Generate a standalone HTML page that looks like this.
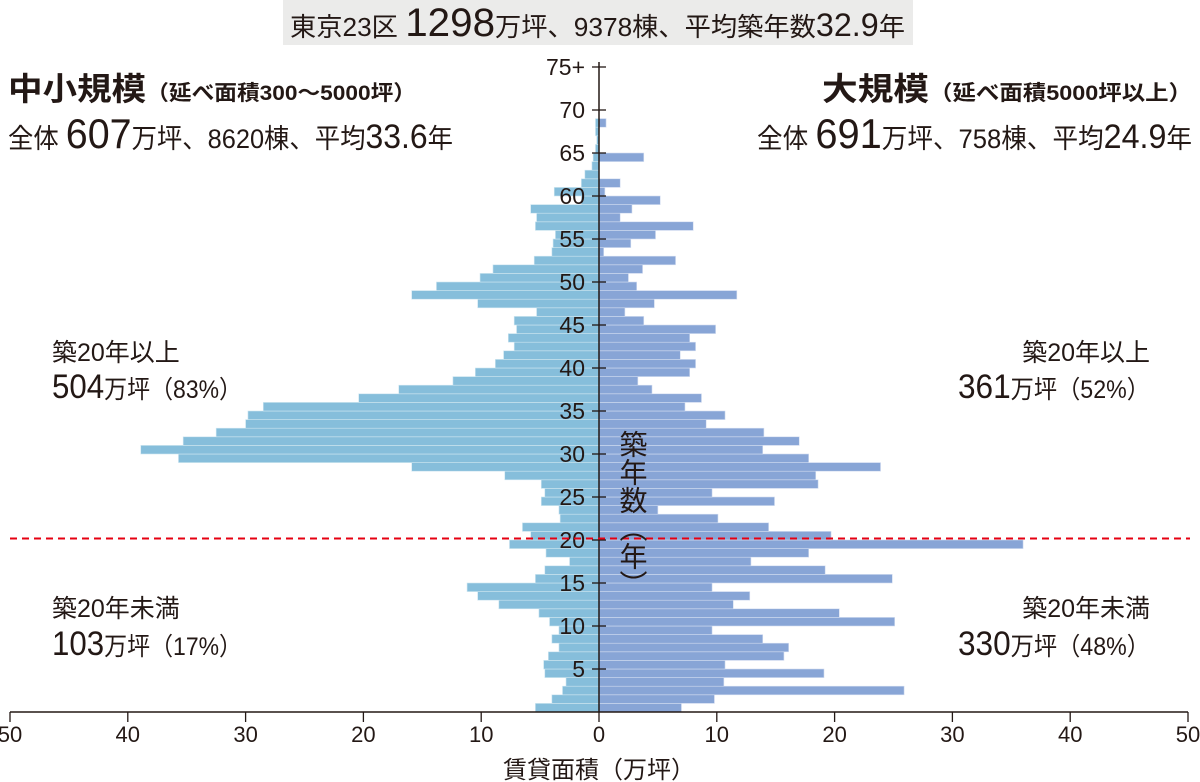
<!DOCTYPE html>
<html><head><meta charset="utf-8"><style>
html,body{margin:0;padding:0;background:#fff;}
svg{display:block;font-family:"Liberation Sans Narrow","Liberation Sans","Noto Sans CJK JP",sans-serif;}
</style></head><body>
<svg id="chart" width="1200" height="782" viewBox="0 0 1200 782" xmlns="http://www.w3.org/2000/svg">
<rect x="283" y="0" width="630" height="45" fill="#ebebea"/>
<text x="290" y="36" fill="#231815" font-size="26" textLength="615" lengthAdjust="spacingAndGlyphs">東京23区 <tspan font-size="40">1298</tspan>万坪、9378棟、平均築年数<tspan font-size="32">32.9</tspan>年</text>
<text x="8" y="100" fill="#231815" font-size="32" font-weight="bold" textLength="408" lengthAdjust="spacingAndGlyphs">中小規模<tspan font-size="21">（延べ面積300～5000坪）</tspan></text>
<text x="8" y="148" fill="#231815" font-size="27" textLength="445" lengthAdjust="spacingAndGlyphs">全体 <tspan font-size="42">607</tspan>万坪、8620棟、平均<tspan font-size="34">33.6</tspan>年</text>
<text x="1192" y="100" text-anchor="end" fill="#231815" font-size="32" font-weight="bold" textLength="370" lengthAdjust="spacingAndGlyphs">大規模<tspan font-size="21">（延べ面積5000坪以上）</tspan></text>
<text x="1192" y="148" text-anchor="end" fill="#231815" font-size="27" textLength="435" lengthAdjust="spacingAndGlyphs">全体 <tspan font-size="42">691</tspan>万坪、758棟、平均<tspan font-size="34">24.9</tspan>年</text>
<g id="bars"></g>
<g id="axes"></g>
<text x="52" y="361" fill="#231815" font-size="25">築20年以上</text>
<text x="52" y="398" fill="#231815" font-size="25" textLength="190" lengthAdjust="spacingAndGlyphs"><tspan font-size="34">504</tspan>万坪（83%）</text>
<text x="52" y="617" fill="#231815" font-size="25">築20年未満</text>
<text x="52" y="655" fill="#231815" font-size="25" textLength="190" lengthAdjust="spacingAndGlyphs"><tspan font-size="34">103</tspan>万坪（17%）</text>
<text x="1150" y="361" text-anchor="end" fill="#231815" font-size="25">築20年以上</text>
<text x="1150" y="398" text-anchor="end" fill="#231815" font-size="25" textLength="192" lengthAdjust="spacingAndGlyphs"><tspan font-size="34">361</tspan>万坪（52%）</text>
<text x="1150" y="617" text-anchor="end" fill="#231815" font-size="25">築20年未満</text>
<text x="1150" y="655" text-anchor="end" fill="#231815" font-size="25" textLength="192" lengthAdjust="spacingAndGlyphs"><tspan font-size="34">330</tspan>万坪（48%）</text>
<text x="632" y="430" fill="#231815" font-size="28" style="writing-mode:vertical-rl;glyph-orientation-vertical:0">築年数（年）</text>
<text x="599" y="778" text-anchor="middle" fill="#231815" font-size="24">賃貸面積（万坪）</text>
</svg>
<script>
const ages = [0,1,2,3,4,5,6,7,8,9,10,11,12,13,14,15,16,17,18,19,20,21,22,23,24,25,26,27,28,29,30,31,32,33,34,35,36,37,38,39,40,41,42,43,44,45,46,47,48,49,50,51,52,53,54,55,56,57,58,59,60,61,62,63,64,65,66,67,68,69];
const smallScale = [5.4,4.0,3.1,2.8,4.6,4.7,4.3,3.4,4.0,3.4,4.2,5.1,8.5,10.3,11.2,5.4,4.6,2.5,4.5,7.6,5.8,6.5,3.3,3.4,4.9,4.6,4.9,8.0,15.9,35.7,38.9,35.3,32.5,30.0,29.8,28.5,20.4,17.0,12.4,10.5,8.8,8.1,7.2,7.7,7.0,7.2,5.3,10.3,15.9,13.8,10.1,9.0,5.5,4.0,3.9,3.7,5.4,5.3,5.8,1.5,3.8,1.5,1.2,0.6,0.5,0.3,0.2,0.3,0.3,0];
const largeScale = [7.0,9.8,25.9,10.6,19.1,10.7,15.7,16.1,13.9,9.6,25.1,20.4,11.4,12.8,9.6,24.9,19.2,12.9,17.8,36.0,19.7,14.4,10.1,5.0,14.9,9.6,18.6,18.4,23.9,17.8,13.9,17.0,14.0,9.1,10.7,7.3,8.7,4.5,3.3,7.7,8.2,6.9,8.2,7.7,9.9,3.8,2.2,4.7,11.7,3.2,2.5,3.7,6.5,0.4,2.7,4.8,8.0,1.8,2.8,5.2,0.5,1.8,0,0,3.8,0,0,0,0.6,0];
const xTicks = [-50,-40,-30,-20,-10,0,10,20,30,40,50];
const xTickLabels = ["50","40","30","20","10","0","10","20","30","40","50"];
const yTicks = [5,10,15,20,25,30,35,40,45,50,55,60,65,70,75];
const yTickLabels = ["5","10","15","20","25","30","35","40","45","50","55","60","65","70","75+"];
const thresholdAge = 20;

const NS = "http://www.w3.org/2000/svg";
const X0 = 599, PXU = 11.78, Y0 = 712, PXY = 8.6;
const xs = v => X0 + v * PXU;
const ys = a => Y0 - a * PXY;
function mk(tag, attrs, parent) {
  const e = document.createElementNS(NS, tag);
  for (const k in attrs) e.setAttribute(k, attrs[k]);
  parent.appendChild(e);
  return e;
}
const bars = document.getElementById('bars');
ages.forEach((a, i) => {
  const l = smallScale[i];
  if (l > 0) {
    const r = mk('rect', {x: xs(-l), y: ys(a + 1), width: xs(0) - xs(-l), height: PXY, fill: '#86bedb', stroke: '#cfe6f1', 'stroke-width': 0.6}, bars);
    
    
  }
  const v = largeScale[i];
  if (v > 0) {
    const r = mk('rect', {x: xs(0), y: ys(a + 1), width: xs(v) - xs(0), height: PXY, fill: '#88a5d6', stroke: '#d3ddf0', 'stroke-width': 0.6}, bars);
    
    
  }
});
const axes = document.getElementById('axes');
const ya = mk('line', {x1: X0, x2: X0, y1: 62, y2: Y0, stroke: '#231815', 'stroke-width': 1.5}, axes);


const xa = mk('line', {x1: xs(-50), x2: xs(50), y1: Y0, y2: Y0, stroke: '#231815', 'stroke-width': 1.5}, axes);


xTicks.forEach((t, i) => {
  const tk = mk('line', {x1: xs(t), x2: xs(t), y1: Y0, y2: Y0 + 10, stroke: '#231815', 'stroke-width': 1.3}, axes);
  
  
  const tl = mk('text', {x: xs(t), y: Y0 + 30, 'text-anchor': 'middle', 'font-size': 22, fill: '#231815'}, axes);
  tl.textContent = xTickLabels[i];
  
  
});
yTicks.forEach((t, i) => {
  const tk = mk('line', {x1: X0 - 7, x2: X0 + 7, y1: ys(t), y2: ys(t), stroke: '#231815', 'stroke-width': 1.3}, axes);
  
  
  const tl = mk('text', {x: X0 - 14, y: ys(t) + 8, 'text-anchor': 'end', 'font-size': 23, fill: '#231815'}, axes);
  tl.textContent = yTickLabels[i];
  
  
});
const th = mk('line', {x1: 10, x2: 1190, y1: ys(thresholdAge) - 1.5, y2: ys(thresholdAge) - 1.5, stroke: '#e60012', 'stroke-width': 2, 'stroke-dasharray': '7,5'}, axes);


</script>
</body></html>
